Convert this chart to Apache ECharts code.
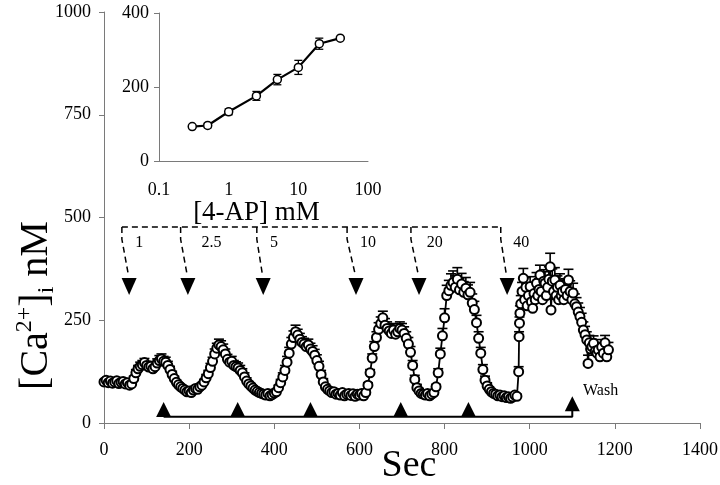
<!DOCTYPE html>
<html><head><meta charset="utf-8">
<script src="https://cdn.jsdelivr.net/npm/echarts@6/dist/echarts.min.js"></script>
<style>html,body{margin:0;padding:0;background:#fff}#c{width:720px;height:485px}</style>
</head><body><div id="c"></div>
<script>
// ---- main trace: time (s), [Ca2+]i (nM), SEM (nM)
const seconds = [
0,5,10,15,20,25,30,35,40,45,50,55,60,65,70,75,80,85,90,95,
100,105,110,115,120,125,130,135,140,145,150,155,160,165,170,175,180,185,190,195,
200,205,210,215,220,225,230,235,240,245,250,255,260,265,270,275,280,285,290,295,
300,305,310,315,320,325,330,335,340,345,350,355,360,365,370,375,380,385,390,395,
400,405,410,415,420,425,430,435,440,445,450,455,460,465,470,475,480,485,490,495,
500,505,510,515,520,525,530,535,540,545,550,555,560,565,570,575,580,585,590,595,
600,605,610,615,620,625,630,635,640,645,650,655,660,665,670,675,680,685,690,695,
700,705,710,715,720,725,730,735,740,745,750,755,760,765,770,775,780,785,790,795,
800,805,810,815,820,825,830,835,840,845,850,855,860,865,870,875,880,885,890,895,
900,905,910,915,920,925,930,935,940,945,950,955,960,965,970,
974,975,976,977,979,982,985,988,991,994,997,
1001,1004,1007,1010,1013,1016,1019,1022,1024,1027,
1030,1033,1036,1039,1042,1045,1048,1050,1053,1056,
1059,1062,1065,1068,1071,1074,1077,1080,1084,1088,
1091,1095,1099,1102,1106,1110,1114,1118,1122,1126,
1130,1134,1137,1140,1143,1146,1150,1154,1158,1161,
1165,1169,1173,1177,1181,1185
];
const calcium = [
100,104,98,102,97,100,103,96,99,101,95,98,92,95,108,122,132,138,142,147,
140,136,138,132,137,146,152,156,150,148,140,130,118,108,99,93,88,84,80,76,
78,74,80,84,82,88,92,100,110,120,135,150,168,182,190,186,178,168,155,148,
150,140,137,134,128,122,112,102,95,90,85,80,77,74,72,70,68,72,66,69,
73,76,86,98,112,128,148,170,192,208,222,214,204,196,192,186,190,180,174,165,
152,138,118,100,88,82,78,74,76,70,72,68,74,66,70,72,67,71,65,70,
68,72,66,74,92,122,158,186,208,228,242,256,238,230,224,218,226,216,222,230,
226,218,206,192,172,140,106,86,78,72,70,68,72,66,70,74,88,122,168,212,
256,310,322,335,342,330,350,324,338,318,328,312,318,292,276,244,206,170,130,104,
90,82,76,72,70,66,68,64,66,62,64,60,63,68,65,
125,210,243,267,290,320,352,300,330,285,310,
332,295,279,315,300,340,310,325,360,320,
300,345,340,310,330,350,380,275,345,320,
348,310,330,300,335,310,320,300,325,310,
348,320,300,316,290,283,270,259,245,226,
215,202,145,195,180,186,194,175,170,178,
161,185,170,195,161,178
];
const sem = [
4,4,4,4,4,4,4,4,4,4,4,4,5,5,6,8,8,10,10,10,
10,10,10,10,10,10,12,12,12,12,10,8,8,6,6,5,5,5,5,5,
5,5,5,5,5,5,6,6,8,8,10,10,12,12,14,14,14,12,12,12,
12,12,12,12,12,10,10,8,6,6,5,5,5,5,5,5,5,5,5,5,
5,5,6,8,10,12,14,14,16,16,16,14,14,14,14,14,14,14,14,14,
14,12,10,8,6,6,5,5,5,5,5,5,5,5,5,5,5,5,5,5,
5,5,5,5,6,8,10,12,14,16,16,16,16,16,16,16,16,16,16,16,
16,16,16,16,14,12,10,8,6,5,5,5,5,5,5,5,6,10,14,18,
22,25,25,28,28,28,28,28,26,26,26,24,24,22,20,18,16,14,12,10,
8,6,5,5,5,5,5,5,5,5,5,5,5,5,5,
12,12,15,18,20,22,24,22,24,22,22,
24,22,22,24,24,26,24,26,24,26,
24,28,28,26,28,30,33,26,30,28,
30,28,28,28,28,28,28,28,26,26,
26,26,26,24,24,22,22,22,22,20,
20,20,20,18,18,18,18,18,18,18,
18,18,18,18,18,18
];
// ---- inset: dose-response
const doseMM = [0.3, 0.5, 1, 2.5, 5, 10, 20, 40];
const doseMean = [93, 96, 133, 176, 220, 253, 317, 332];
const doseSem = [3, 6, 8, 12, 14, 19, 15, 3];
// ---- tick labels
const mainXTicks = ['0','200','400','600','800','1000','1200','1400'];
const mainYTicks = ['0','250','500','750','1000'];
const insetXTicks = ['0.1','1','10','100'];
const insetYTicks = ['0','200','400'];
// ---- annotations (data space)
const doseLabels = ['1','2.5','5','10','20','40'];
const dropTopSec = [42, 180, 359, 571, 721, 932];
const arrowSec = [59, 197, 374, 592, 740, 947];
const labelSec = [73, 229, 390, 601, 758, 961];
const bracketNM = 477;
const pulseSec = [140, 314, 485, 697, 856];
const washSec = 1100;

const FONT = '"Liberation Serif","Times New Roman",serif';
const chart = echarts.init(document.getElementById('c'));

const mainPts = seconds.map((t, i) => [t, calcium[i], sem[i] || 0]);
const insetPts = doseMM.map((d, i) => [d, doseMean[i], doseSem[i]]);

function errUp(params, api) {
  const x = api.value(0), y = api.value(1), e = api.value(2);
  const p0 = api.coord([x, y]), p1 = api.coord([x, y + e]);
  const w = 5;
  return { type: 'group', children: [
    { type: 'line', shape: { x1: p0[0], y1: p0[1], x2: p1[0], y2: p1[1] }, style: { stroke: '#000', lineWidth: 1.6 } },
    { type: 'line', shape: { x1: p1[0] - w, y1: p1[1], x2: p1[0] + w, y2: p1[1] }, style: { stroke: '#000', lineWidth: 1.6 } }
  ]};
}
function errBoth(params, api) {
  const x = api.value(0), y = api.value(1), e = api.value(2);
  const lo = api.coord([x, y - e]), hi = api.coord([x, y + e]);
  const w = 4;
  return { type: 'group', children: [
    { type: 'line', shape: { x1: lo[0], y1: lo[1], x2: hi[0], y2: hi[1] }, style: { stroke: '#000', lineWidth: 1.3 } },
    { type: 'line', shape: { x1: hi[0] - w, y1: hi[1], x2: hi[0] + w, y2: hi[1] }, style: { stroke: '#000', lineWidth: 1.3 } },
    { type: 'line', shape: { x1: lo[0] - w, y1: lo[1], x2: lo[0] + w, y2: lo[1] }, style: { stroke: '#000', lineWidth: 1.3 } }
  ]};
}

const drops = dropTopSec.map((x0, i) => ({ coords: [[x0, bracketNM], [x0, bracketNM - 30], [arrowSec[i] - 2, 362]] }));

const axisGray = '#7a7a7a';
const option = {
  animation: false,
  textStyle: { fontFamily: FONT, color: '#000' },
  grid: [
    { left: 104, top: 12, width: 596, height: 411, outerBoundsMode: 'none', containLabel: false },
    { left: 159, top: 13, width: 209, height: 148, outerBoundsMode: 'none', containLabel: false }
  ],
  xAxis: [
    { gridIndex: 0, type: 'value', min: 0, max: 1400, interval: 200,
      axisLine: { show: true, lineStyle: { color: axisGray, width: 1 } },
      axisTick: { show: true, length: 6, lineStyle: { color: axisGray } },
      axisLabel: { color: '#000', fontFamily: FONT, fontSize: 18, margin: 18, formatter: (v, i) => mainXTicks[i] },
      splitLine: { show: false },
      name: 'Sec', nameLocation: 'middle', nameGap: 24, nameMoveOverlap: false,
      nameTextStyle: { fontFamily: FONT, fontSize: 38, color: '#000', padding: [0, 0, 0, 14] } },
    { gridIndex: 1, type: 'log', logBase: 10, min: 0.1, max: 100,
      axisLine: { show: true, lineStyle: { color: axisGray, width: 1 } },
      axisTick: { show: false },
      axisLabel: { color: '#000', fontFamily: FONT, fontSize: 18, margin: 20, formatter: (v, i) => insetXTicks[i] },
      splitLine: { show: false },
      name: '[4-AP] mM', nameLocation: 'middle', nameGap: 32,
      nameTextStyle: { fontFamily: FONT, fontSize: 27, color: '#000', padding: [0, 14, 0, 0] } }
  ],
  yAxis: [
    { gridIndex: 0, type: 'value', min: 0, max: 1000, interval: 250,
      axisLine: { show: true, lineStyle: { color: axisGray, width: 1 } },
      axisTick: { show: true, length: 5, lineStyle: { color: axisGray } },
      axisLabel: { color: '#000', fontFamily: FONT, fontSize: 18, margin: 13, formatter: (v, i) => mainYTicks[i] },
      splitLine: { show: false },
      name: '{a|[Ca}{s|2+}{a|]}{b|i}{a| nM}', nameLocation: 'middle', nameRotate: 90, nameGap: 45, nameMoveOverlap: false,
      nameTextStyle: { padding: [0, 176, 0, 0], rich: {
        a: { fontFamily: FONT, fontSize: 40, color: '#000', lineHeight: 46, verticalAlign: 'middle' },
        s: { fontFamily: FONT, fontSize: 24, color: '#000', lineHeight: 46, verticalAlign: 'top', padding: [0, 0, 16, 0] },
        b: { fontFamily: FONT, fontSize: 24, color: '#000', lineHeight: 46, verticalAlign: 'bottom', padding: [12, 0, 0, 0] }
      } } },
    { gridIndex: 1, type: 'value', min: 0, max: 400, interval: 200,
      axisLine: { show: true, lineStyle: { color: axisGray, width: 1 } },
      axisTick: { show: true, length: 5, lineStyle: { color: axisGray } },
      axisLabel: { color: '#000', fontFamily: FONT, fontSize: 18, margin: 10, formatter: (v, i) => insetYTicks[i] },
      splitLine: { show: false } }
  ],
  series: [
    { type: 'custom', xAxisIndex: 0, yAxisIndex: 0, data: mainPts, renderItem: errUp, z: 2, silent: true },
    { type: 'line', xAxisIndex: 0, yAxisIndex: 0, data: mainPts.map(p => [p[0], p[1]]), z: 3,
      symbol: 'circle', symbolSize: 9, showSymbol: true,
      lineStyle: { color: '#000', width: 1.8 },
      itemStyle: { color: '#fff', borderColor: '#000', borderWidth: 2 } },
    { type: 'custom', xAxisIndex: 1, yAxisIndex: 1, data: insetPts, renderItem: errBoth, z: 2, silent: true },
    { type: 'line', xAxisIndex: 1, yAxisIndex: 1, data: insetPts.map(p => [p[0], p[1]]), z: 3,
      symbol: 'circle', symbolSize: 8,
      lineStyle: { color: '#000', width: 2.2 },
      itemStyle: { color: '#fff', borderColor: '#000', borderWidth: 1.5 } },
    { type: 'lines', coordinateSystem: 'cartesian2d', xAxisIndex: 0, yAxisIndex: 0, polyline: true,
      data: [{ coords: [[dropTopSec[0], bracketNM], [dropTopSec[dropTopSec.length - 1], bracketNM]] }].concat(drops),
      lineStyle: { color: '#000', width: 1.5, type: [6, 4], opacity: 1 }, z: 4 },
    { type: 'scatter', xAxisIndex: 0, yAxisIndex: 0, data: arrowSec.map(x => [x, 332]),
      symbol: 'triangle', symbolRotate: 180, symbolSize: [15, 17], itemStyle: { color: '#000', opacity: 1 }, z: 5 },
    { type: 'line', xAxisIndex: 0, yAxisIndex: 0, data: [[pulseSec[0], 15], [washSec, 15], [washSec, 33]],
      symbol: 'none', lineStyle: { color: '#000', width: 2 }, z: 4 },
    { type: 'scatter', xAxisIndex: 0, yAxisIndex: 0, data: pulseSec.map(x => [x, 33]).concat([[washSec, 47]]),
      symbol: 'triangle', symbolSize: [15, 15], itemStyle: { color: '#000', opacity: 1 }, z: 5 },
    { type: 'scatter', xAxisIndex: 0, yAxisIndex: 0,
      data: labelSec.map((x, i) => ({ value: [x, 438], name: doseLabels[i] })).concat([{ value: [1125, 78], name: 'Wash' }]),
      symbolSize: 0.1, itemStyle: { color: '#000', opacity: 1 }, z: 6,
      label: { show: true, position: 'right', distance: 0, formatter: p => p.name,
        fontFamily: FONT, fontSize: 16, color: '#000', opacity: 1 } }
  ]
};
chart.setOption(option);
</script>
</body></html>
